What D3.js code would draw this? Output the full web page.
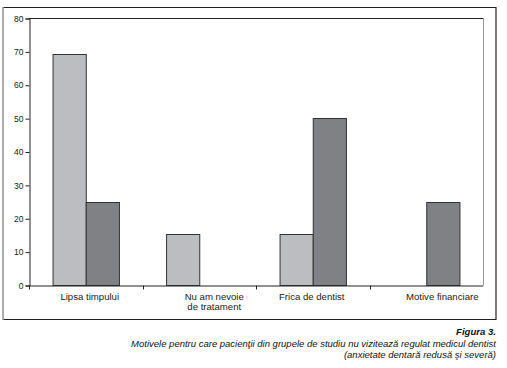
<!DOCTYPE html>
<html>
<head>
<meta charset="utf-8">
<script src="https://cdn.jsdelivr.net/npm/d3@7"></script>
<style>
  html, body { margin: 0; padding: 0; background: #fff; }
  svg { display: block; font-family: "Liberation Sans", Arial, sans-serif; }
</style>
</head>
<body>
<svg id="chart" width="507" height="368"></svg>
<script>
// ---- data ----
const categories = ["Lipsa timpului", "Nu am nevoie\nde tratament", "Frica de dentist", "Motive financiare"];
const seriesNames = ["anxietate dentară redusă", "anxietate dentară severă"];
const reducedValues = [69.2, 15.4, 15.4, 0];
const severeValues = [25, 0, 50, 25];
const yTicks = [0, 10, 20, 30, 40, 50, 60, 70, 80];
const captionTitle = "Figura 3.";
const captionLines = [
  "Motivele pentru care pacienţii din grupele de studiu nu vizitează regulat medicul dentist",
  "(anxietate dentară redusă şi severă)"
];

// ---- layout ----
const svg = d3.select("#chart");
const plot = { left: 29, right: 483, top: 18, bottom: 285 };
const colors = ["#bcbdc1", "#808184"];
const labelShift = [4, 15, -1, 16];

// outer frame
svg.append("line").attr("x1", 3).attr("x2", 496).attr("y1", 7.5).attr("y2", 7.5).attr("stroke", "#222").attr("stroke-width", 1.2);
svg.append("line").attr("x1", 496).attr("x2", 496).attr("y1", 7).attr("y2", 320).attr("stroke", "#222").attr("stroke-width", 1.2);
svg.append("line").attr("x1", 3).attr("x2", 496).attr("y1", 319.5).attr("y2", 319.5).attr("stroke", "#222").attr("stroke-width", 1.2);
svg.append("line").attr("x1", 3).attr("x2", 3).attr("y1", 7).attr("y2", 320).attr("stroke", "#999").attr("stroke-width", 1.6);

const x0 = d3.scaleBand().domain(d3.range(categories.length)).range([plot.left, plot.right]).paddingInner(0).paddingOuter(0);
const x1 = d3.scaleBand().domain(d3.range(seriesNames.length)).range([0, x0.bandwidth()]).paddingInner(0).paddingOuter(0.71);
const y = d3.scaleLinear().domain([0, 80]).range([plot.bottom, plot.top]);

// plot top & right border
svg.append("line").attr("x1", plot.left).attr("x2", plot.right).attr("y1", plot.top + 0.5).attr("y2", plot.top + 0.5).attr("stroke", "#222");
svg.append("line").attr("x1", plot.right + 0.5).attr("x2", plot.right + 0.5).attr("y1", plot.top).attr("y2", plot.bottom).attr("stroke", "#999");

// bars
const rows = categories.map((c, i) => [reducedValues[i], severeValues[i]]);
const groups = svg.append("g").selectAll("g").data(rows).join("g")
  .attr("transform", (d, i) => `translate(${x0(i)},0)`);
groups.selectAll("rect")
  .data(d => d.map((v, s) => ({ v, s })).filter(e => e.v > 0))
  .join("rect")
  .attr("x", d => x1(d.s) + 0.5)
  .attr("width", x1.bandwidth())
  .attr("y", d => Math.round(y(d.v)) + 0.5)
  .attr("height", d => plot.bottom - Math.round(y(d.v)))
  .attr("fill", d => colors[d.s])
  .attr("stroke", "#333")
  .attr("stroke-width", 1);

// y axis
const yAxis = svg.append("g").attr("transform", `translate(${plot.left + 0.5},0.5)`)
  .call(d3.axisLeft(y).tickValues(yTicks).tickSize(4).tickPadding(2).tickFormat(d3.format("d")));
yAxis.select(".domain").attr("stroke", "#222");
yAxis.selectAll(".tick line").attr("stroke", "#222");
yAxis.selectAll("text").attr("fill", "#222").style("font-size", "8.5px").style("font-family", "'Liberation Sans', Arial, sans-serif");

// x axis
const xAxis = svg.append("g").attr("transform", `translate(0,${plot.bottom + 0.5})`)
  .call(d3.axisBottom(x0).tickValues([]).tickSizeOuter(0));
xAxis.select(".domain").attr("stroke", "#222");
// category boundary ticks
const bounds = d3.range(categories.length).map(i => x0(i));
xAxis.selectAll("line.bound").data(bounds).join("line")
  .attr("class", "bound")
  .attr("x1", d => Math.round(d) + 0.5).attr("x2", d => Math.round(d) + 0.5)
  .attr("y1", 0).attr("y2", 4).attr("stroke", "#222");

// category labels
const labels = svg.append("g");
categories.forEach((c, i) => {
  const cx = x0(i) + x0.bandwidth() / 2 + labelShift[i];
  const t = labels.append("text")
    .attr("x", cx)
    .attr("y", plot.bottom + 15)
    .attr("text-anchor", "middle")
    .attr("fill", "#222")
    .style("font-size", "9.6px");
  c.split("\n").forEach((line, k) => {
    t.append("tspan").attr("x", cx).attr("dy", k === 0 ? 0 : 10).text(line);
  });
});

// caption
svg.append("text").attr("x", 496).attr("y", 335).attr("text-anchor", "end")
  .style("font-size", "9.6px").style("font-weight", "bold").style("font-style", "italic").attr("fill", "#111")
  .text(captionTitle);
captionLines.forEach((line, k) => {
  svg.append("text").attr("x", 496).attr("y", 347 + k * 11).attr("text-anchor", "end")
    .style("font-size", "9.5px").style("font-style", "italic").attr("fill", "#111")
    .text(line);
});
</script>
</body>
</html>
